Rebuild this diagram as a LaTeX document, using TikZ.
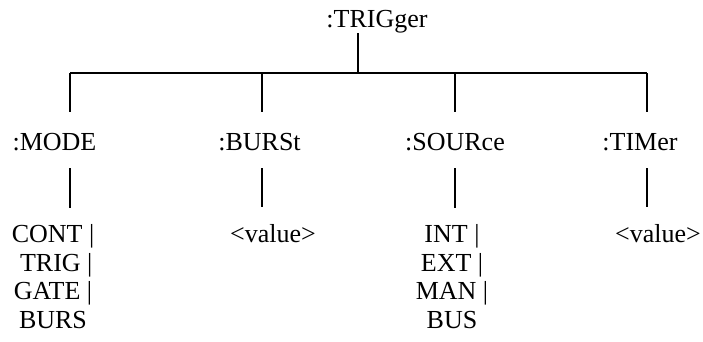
\documentclass[tikz,border=0pt]{standalone}
\usepackage{fontspec}
\setmainfont{Liberation Serif}
\tikzset{lbl/.style={inner sep=0pt,font=\fontsize{26}{28.5}\selectfont}}
\begin{document}
\begin{tikzpicture}[x=1pt,y=1pt,line width=1.4pt]
\useasboundingbox (0,0) rectangle (703,341);
\node[lbl,anchor=base] (trig) at (377,314) {:TRIGger};
\coordinate (top) at (358,268);          % junction under the root
\coordinate (bmode) at (70,268);
\coordinate (bburst) at (262,268);
\coordinate (bsource) at (455,268);
\coordinate (btimer) at (647,268);
\node[lbl,anchor=base] (mode) at (54.5,191) {:MODE};
\node[lbl,anchor=base] (burst) at (259.5,191) {:BURSt};
\node[lbl,anchor=base] (source) at (455,191) {:SOURce};
\node[lbl,anchor=base] (timer) at (640,191) {:TIMer};
\node[lbl,anchor=north,align=center] (modeval) at (53,117) {CONT |\\ \ TRIG |\\GATE |\\BURS};
\node[lbl,anchor=base] (burstval) at (273,99) {<value>};
\node[lbl,anchor=north,align=center] (sourceval) at (452,117) {INT |\\EXT |\\MAN |\\BUS};
\node[lbl,anchor=base] (timerval) at (658,99) {<value>};
\draw (trig.south -| top) -- (top);
\draw (bmode) -- (btimer);
\foreach \b/\n/\v in {bmode/mode/modeval,bburst/burst/burstval,bsource/source/sourceval,btimer/timer/timerval}{
  \draw (\b) -- ([yshift=20pt]\n.north -| \b);       % drop from the bar
  \draw ([yshift=-18pt]\n.base -| \b) -- ([yshift=16pt]\v.north -| \b);
}
\end{tikzpicture}
\end{document}
